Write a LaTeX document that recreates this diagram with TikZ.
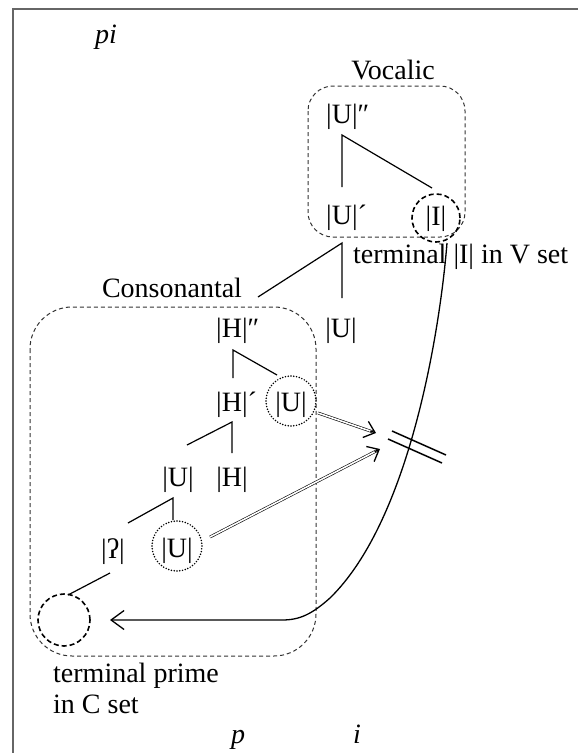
\documentclass[tikz,border=0pt]{standalone}
\usepackage{fontspec}
\setmainfont{Liberation Serif}
\usetikzlibrary{arrows.meta,calc}
\begin{document}
\begin{tikzpicture}[x=1pt,y=-1pt,
  el/.style={font=\fontsize{28}{31}\selectfont, inner sep=0pt, anchor=base},
  elw/.style={el, anchor=base west},
  br/.style={line width=1.2pt},
  grp/.style={draw=black!80, dash pattern=on 4pt off 3pt, line width=1pt},
  dotc/.style={draw, circle, line width=1.7pt, dash pattern=on 0pt off 2.8pt, line cap=round, minimum size=50pt, inner sep=0pt},
  dashc/.style={draw, circle, line width=1.6pt, dash pattern=on 5pt off 3pt, minimum size=#1, inner sep=0pt},
  dbl/.style={double, double distance=1.6pt, line width=0.6pt},
  tip/.style={line width=1.3pt, -{Straight Barb[length=10pt, width=17pt]}}]
\useasboundingbox (0,0) rectangle (578,753);
\fill[white] (0,0) rectangle (578,753);
% frame
\draw[black!60, line width=1.5pt] (13,800) -- (13,9) -- (620,9);

% group boxes
\draw[grp, rounded corners=25pt] (308,86) rectangle (465,237);
\draw[grp, rounded corners=42pt] (30,307) rectangle (316,656);

% texts
\node[el] (pi) at (106,43) {\itshape pi};
\node[el] (voc) at (393,79) {Vocalic};
\node[el] (cons) at (172,297) {Consonantal};
\node[elw] (term) at (353,263) {terminal |I| in V set};
\node[elw] (tp) at (53,682) {terminal prime};
\node[elw] (cset) at (53,713) {in C set};
\node[el] (p) at (238,743) {\itshape p};
\node[el] (i) at (357,743) {\itshape i};

% vocalic elements
\node[elw] (U2) at (326,123) {|U|″};
\node[elw] (U1) at (326,224) {|U|´};
\node[el] (I) at (436,225) {|I|};
\node[dashc=48pt] (Ic) at (436,218) {};
\node[el] (Uv) at (341,337) {|U|};

% consonantal elements
\node[elw] (H2) at (216,337) {|H|″};
\node[elw] (H1) at (216,411) {|H|´};
\node[el] (Ud1) at (291,411) {|U|};
\node[dotc] (Ud1c) at (291,401) {};
\node[el] (Ua) at (178,486) {|U|};
\node[el] (Hb) at (232,486) {|H|};
\node[el] (gs) at (113,558) {|ʔ|};
\node[el] (Ud2) at (177,557) {|U|};
\node[dotc] (Ud2c) at (177,546) {};
\node[dashc=52pt] (C0) at (64,620) {};

% tree lines
\coordinate (a0) at (342,135); \coordinate (a1) at (342,187); \coordinate (a2) at (432,188);
\draw[br] (a1) -- (a0) -- (a2);
\coordinate (b0) at (342,243); \coordinate (b1) at (342,298); \coordinate (b2) at (258,297);
\draw[br] (b1) -- (b0) -- (b2);
\coordinate (c0) at (233,350); \coordinate (c1) at (233,378); \coordinate (c2) at (277,375);
\draw[br] (c1) -- (c0) -- (c2);
\coordinate (d0) at (232,422); \coordinate (d1) at (232,453); \coordinate (d2) at (187,445);
\draw[br] (d1) -- (d0) -- (d2);
\coordinate (e0) at (173,498); \coordinate (e1) at (173,520); \coordinate (e2) at (128,523);
\draw[br] (e1) -- (e0) -- (e2);
\coordinate (f0) at (110,573); \coordinate (f1) at (68,595);
\draw[br] (f0) -- (f1);

% double arrows
\coordinate (s1) at (318,413); \coordinate (t1) at (376,433);
\coordinate (s2) at (210,537); \coordinate (t2) at (380,449);
\draw[dbl] (s1) -- ($(t1)!3pt!(s1)$);
\draw[tip] ($(t1)!6pt!(s1)$) -- (t1);
\draw[dbl] (s2) -- ($(t2)!3pt!(s2)$);
\draw[tip] ($(t2)!6pt!(s2)$) -- (t2);

% blocking bars
\coordinate (g1) at (392,431); \coordinate (g2) at (446,455);
\coordinate (h1) at (388,439); \coordinate (h2) at (442,463);
\draw[line width=1.5pt] (g1) -- (g2);
\draw[line width=1.5pt] (h1) -- (h2);

% long curve
\coordinate (k0) at (447,243);
\coordinate (k1) at (330,598);
\coordinate (k2) at (282,620);
\coordinate (k3) at (110,620);
\draw[line width=1.3pt, -{Straight Barb[length=13pt, width=19pt]}]
  (k0) .. controls (440,330) and (410,520) .. (k1)
  .. controls (312,614) and (300,620) .. (k2) -- (k3);
\end{tikzpicture}
\end{document}
